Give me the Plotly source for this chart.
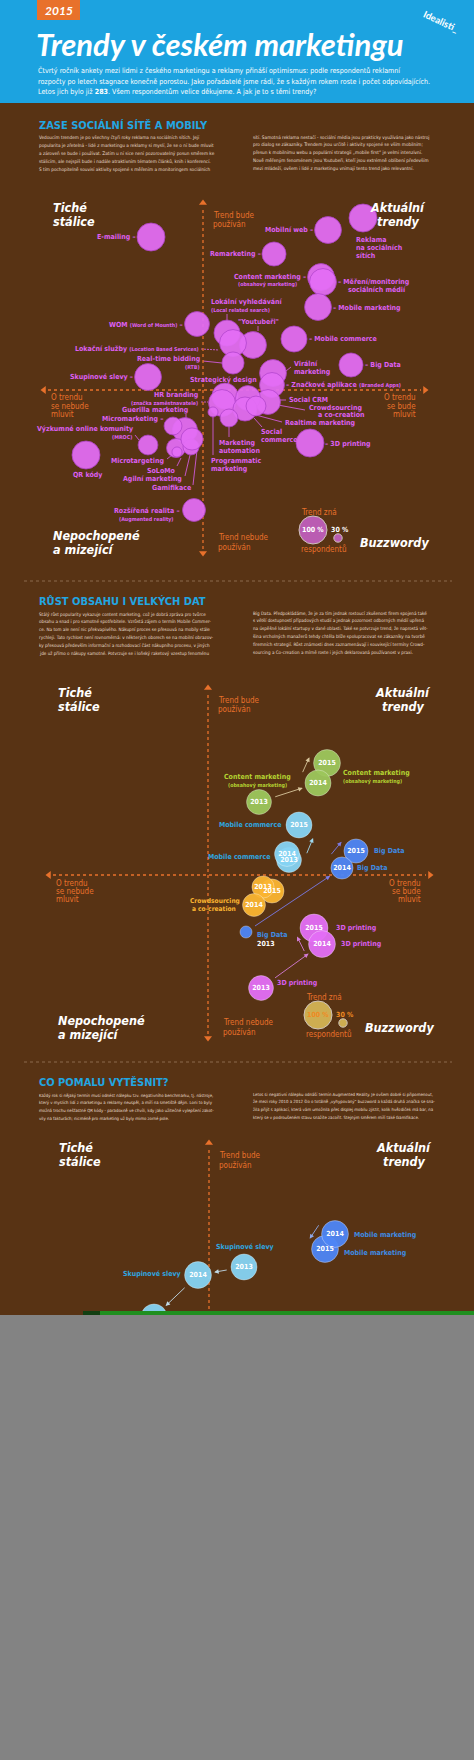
import math
import plotly.graph_objects as go

W, H = 474, 1760
NARROW = "Liberation Sans Narrow, DejaVu Sans Condensed, Arial Narrow, sans-serif"
TITLE_FONT = "Lato, Liberation Sans, sans-serif"

# ---------------- data ----------------
# 2015: talk = "bude se o trendu mluvit", use = "trend bude používán" (0 = střed os),
# known = kolik % respondentů trend zná
trends = ["E-mailing", "Reklama na sociálních sítích", "Mobilní web", "Remarketing",
          "Content marketing", "Měření/monitoring sociálních médií", "Mobile marketing",
          "Lokální vyhledávání", "WOM", "Youtubeři", "Mobile commerce", "Lokační služby",
          "Real-time bidding", "Skupinové slevy", "Virální marketing", "Big Data",
          "Značkové aplikace", "Strategický design", "HR branding", "Social CRM",
          "Crowdsourcing a co-creation", "Realtime marketing", "Social commerce",
          "Marketing automation", "Programmatic marketing", "3D printing",
          "Guerilla marketing", "Micromarketing", "Výzkumné online komunity",
          "Microtargeting", "SoLoMo", "Agilní marketing", "Gamifikace", "QR kódy",
          "Rozšířená realita"]
talk = [-52, 160, 125, 71, 118, 120, 115, 24, -6, 50, 91, 30, 30, -55, 70, 148, 69, 22, 19, 65,
        45, 42, 53, 26, 10, 107, -18, -30, -55, -27, -26, -12, -11, -117, -9]
use = [153, 172, 160, 136, 113, 108, 83, 57, 66, 45, 51, 47, 27, 13, 17, 25, 5, -6, -13, -12,
       -8, -19, -16, -28, -22, -53, -40, -36, -55, -58, -62, -57, -49, -65, -120]
known = [100, 100, 96, 86, 96, 96, 96, 93, 89, 96, 93, 96, 79, 96, 96, 86, 89, 93, 96, 89,
         89, 86, 71, 64, 36, 100, 89, 64, 71, 68, 36, 57, 79, 100, 82]

legend_known = [100, 30]

# vývoj 2013 - 2015
growth_names = ["Content marketing", "Mobile commerce", "Big Data", "Crowdsourcing a co-creation", "3D printing"]
growth_years = [2013, 2014, 2015]
growth_talk = [[51, 110, 119], [81, 79, 91], [38, 134, 148], [55, 46, 64], [53, 114, 106]]
growth_use = [[73, 92, 112], [15, 21, 50], [-57, 7, 24], [-12, -30, -16], [-113, -69, -53]]
growth_known = [[89, 93, 96], [89, 89, 93], [43, 79, 86], [79, 82, 86], [89, 96, 100]]

decline_names = ["Skupinové slevy", "Mobile marketing"]
decline_years = [[2013, 2014, 2015], [2014, 2015]]
decline_talk = [[35, -11, -55], [126, 116]]
decline_use = [[63, 55, 13], [96, 81]]
decline_known = [[93, 96, 93], [96, 96]]

# ---------------- styles ----------------
BLUE = "#1CA3E0"
BROWN = "#583314"
ORANGE = "#E8712B"
PINK = "#E46EF6"
PINK_TXT = "#DD5FF2"
PARA = "#EADFD0"
SIZEREF = 1 / 0.28  # 100 % respondentu = 28 px

growth_col = ["#9DC75C", "#86D4F4", "#4E86F6", "#FBB531", "#E46EF6"]
growth_txt = ["#B4D232", "#2EA6E0", "#3E8BE3", "#FBB531", "#DA5EF0"]
growth_arrow = ["#D8C69C", "#9ED9F0", "#7B7BE6", None, "#D27AD6"]
growth_side = [1, -1, 1, 0, 1]
decline_col = ["#86D4F4", "#4E86F6"]
decline_txt = ["#2EA6E0", "#3E8BE3"]
decline_arrow = ["#BFD9E6", "#8FA8E8"]
decline_side = [1, -1]

# (stred os x, stred os y, horni okraj, dolni okraj) v pixelech stranky
charts = [(203, 390, 180, 560), (208, 875, 665, 1045), (209, 1330, 1130, 1313)]
AX_X0, AX_X1, AX_Y0, AX_Y1 = -159, 222, -163, 187

fig = go.Figure()
ann = []
shapes = []


def txt(s, x, y, size=7.0, color=PINK_TXT, anchor="left", bold=True, italic=False, family=NARROW, angle=0):
    ann.append(dict(text=s, x=x / W, y=1 - y / H, xref="paper", yref="paper", showarrow=False,
                    xanchor=anchor, yanchor="middle", textangle=angle, borderpad=0,
                    font=dict(family=family, size=size, color=color,
                              weight="bold" if bold else "normal",
                              style="italic" if italic else "normal")))


def sub(s):
    return "<span style='font-size:5.3px'>" + s + "</span>"


def rect(x0, y0, x1, y1, color, layer="below"):
    shapes.append(dict(type="rect", xref="paper", yref="paper", x0=x0 / W, x1=x1 / W,
                       y0=1 - y1 / H, y1=1 - y0 / H, fillcolor=color, line=dict(width=0), layer=layer))


def seg(x0, y0, x1, y1, color=PINK_TXT, width=0.8, dash="solid"):
    shapes.append(dict(type="line", xref="paper", yref="paper", x0=x0 / W, x1=x1 / W,
                       y0=1 - y0 / H, y1=1 - y1 / H, line=dict(color=color, width=width, dash=dash),
                       layer="below"))


# ---------------- header ----------------
rect(0, 0, W, 103, BLUE)
rect(37, 0, 80, 20, ORANGE)
txt("2015", 58.5, 10, 12, "white", "center", True, True, TITLE_FONT)
txt("Trendy v českém marketingu", 35, 44, 31, "white", "left", True, True, TITLE_FONT)
txt("Idealisti_", 441, 22, 9.5, "white", "center", True, False, TITLE_FONT, angle=25)
sub_lines = ["Čtvrtý ročník ankety mezi lidmi z českého marketingu a reklamy přináší optimismus: podle respondentů reklamní",
             "rozpočty po letech stagnace konečně porostou. Jako pořadatelé jsme rádi, že s každým rokem roste i počet odpovídajících.",
             "Letos jich bylo již <b>283</b>. Všem respondentům velice děkujeme. A jak je to s těmi trendy?"]
for i, s in enumerate(sub_lines):
    txt(s, 37, 71 + i * 10, 7.1, "white", "left", False)


def section(title, y, left, right, size):
    txt(title, 38, y, 11, "#22A6E2", "left", True)
    for i, s in enumerate(left):
        txt(s, 38, y + 13 + i * 7.8, size, PARA, "left", False)
    for i, s in enumerate(right):
        txt(s, 252, y + 12 + i * 7.8, size, PARA, "left", False)


section("ZASE SOCIÁLNÍ SÍTĚ A MOBILY", 125,
        ["Vedoucím trendem je po všechny čtyři roky reklama na sociálních sítích. Její",
         "popularita je zřetelná - lidé z marketingu a reklamy si myslí, že se o ní bude mluvit",
         "a zároveň se bude i používat. Zatím u ní sice není pozorovatelný posun směrem ke",
         "stálicím, ale nejspíš bude i nadále atraktivním tématem článků, knih i konferencí.",
         "S tím pochopitelně souvisí aktivity spojené s měřením a monitoringem sociálních"],
        ["sítí. Samotná reklama nestačí - sociální média jsou prakticky využívána jako nástroj",
         "pro dialog se zákazníky. Trendem jsou určitě i aktivity spojené se vším mobilním;",
         "přesun k mobilnímu webu a populární strategii „mobile first“ je velmi intenzivní.",
         "Nově měřeným fenoménem jsou Youtubeři, kteří jsou extrémně oblíbení především",
         "mezi mládeží, ovšem i lidé z marketingu vnímají tento trend jako relevantní."], 4.7)

section("RŮST OBSAHU I VELKÝCH DAT", 601,
        ["Stálý růst popularity vykazuje content marketing, což je dobrá zpráva pro tvůrce",
         "obsahu a snad i pro samotné spotřebitele. Vzrůstá zájem o termín Mobile Commer-",
         "ce. Na tom ale není nic překvapivého. Nákupní proces se přesouvá na mobily stále",
         "rychleji. Tato rychlost není rovnoměrná: v některých oborech se na mobilní obrazov-",
         "ky přesouvá především informační a rozhodovací část nákupního procesu, v jiných",
         "jde už přímo o nákupy samotné. Potvrzuje se i loňský raketový vzestup fenoménu"],
        ["Big Data. Předpokládáme, že je za tím jednak rostoucí zkušenost firem spojená také",
         "s větší dostupností případových studií a jednak pozornost odborných médií upřená",
         "na úspěšné lokální startupy v dané oblasti. Také se potvrzuje trend, že naprostá vět-",
         "šina vrcholných manažerů tehdy chtěla blíže spolupracovat se zákazníky na tvorbě",
         "firemních strategií. Růst známosti dnes zaznamenávají i související termíny Crowd-",
         "sourcing a Co-creation a mírně roste i jejich deklarovaná používanost v praxi."], 4.6)

section("CO POMALU VYTĚSNIT?", 1082,
        ["Každý rok si nějaký termín musí odnést nálepku tzv. negativního benchmarku, tj. nástroje,",
         "který v myslích lidí z marketingu a reklamy neuspěl, a míří na smetiště dějin. Loni to byly",
         "možná trochu nešťastné QR kódy - paradoxně ve chvíli, kdy jako užitečné vylepšení zakot-",
         "vily na fakturách; nicméně pro marketing už byly mimo zorné pole."],
        ["Letos si negativní nálepku odnáší termín Augmented Reality. Je ovšem dobré si připomenout,",
         "že mezi roky 2010 a 2012 šlo o totálně „vyhypovaný“ buzzword a každá druhá značka se sna-",
         "žila přijít s aplikací, která vám umožnila přes displej mobilu zjistit, kolik hvězdiček má bar, na",
         "který se v podroušeném stavu snažíte zacořit. Stejným směrem míří také Gamifikace."], 4.3)

seg(24, 581, 452, 581, "#8B6A4C", 1, "dot")
seg(24, 1062, 452, 1062, "#8B6A4C", 1, "dot")

# ---------------- axes of the three charts ----------------
layout_axes = {}
for n, (cx, cy, top, bot) in enumerate(charts, start=1):
    sfx = "" if n == 1 else str(n)
    layout_axes["xaxis" + sfx] = dict(domain=[0, 1], range=[-cx, W - cx], visible=False,
                                      anchor="y" + sfx, fixedrange=True)
    layout_axes["yaxis" + sfx] = dict(domain=[1 - bot / H, 1 - top / H], range=[cy - bot, cy - top],
                                      visible=False, anchor="x" + sfx, fixedrange=True)
    xr, yr = "x" + sfx, "y" + sfx
    shapes.append(dict(type="line", xref=xr, yref=yr, x0=0, x1=0, y0=AX_Y0 + 4, y1=AX_Y1 - 4,
                       line=dict(color=ORANGE, width=1.3, dash="3px,3px"), layer="below"))
    shapes.append(dict(type="line", xref=xr, yref=yr, x0=AX_X0 + 4, x1=AX_X1 - 4, y0=0, y1=0,
                       line=dict(color=ORANGE, width=1.3, dash="3px,3px"), layer="below"))
    fig.add_trace(go.Scatter(x=[0, 0, AX_X0, AX_X1], y=[AX_Y1, AX_Y0, 0, 0], mode="markers",
                             marker=dict(symbol=["triangle-up", "triangle-down", "triangle-left", "triangle-right"],
                                         size=7, color=ORANGE),
                             xaxis=xr, yaxis=yr, hoverinfo="skip", showlegend=False))


def quadrant(ax, top, legend_txt, full=True):
    white = dict(color="white", bold=True, italic=True, size=12.5)
    txt("Tiché", ax - 151, top + 4, **white)
    txt("stálice", ax - 151, top + 18, **white)
    txt("Aktuální", ax + 195, top + 4, anchor="center", **white)
    txt("trendy", ax + 195, top + 18, anchor="center", **white)
    txt("Trend bude", ax + 9, top + 12, 8, ORANGE, bold=False)
    txt("používán", ax + 9, top + 22, 8, ORANGE, bold=False)
    if not full:
        return
    for i, s in enumerate(["O trendu", "se nebude", "mluvit"]):
        txt(s, ax - 153, top + 195 + i * 8.2, 8, ORANGE, bold=False)
    for i, s in enumerate(["O trendu", "se bude", "mluvit"]):
        txt(s, ax + 214, top + 195 + i * 8.2, 8, ORANGE, "right", bold=False)
    txt("Nepochopené", ax - 151, top + 332, **white)
    txt("a mizející", ax - 151, top + 346, **white)
    txt("Trend nebude", ax + 14, top + 334, 8, ORANGE, bold=False)
    txt("používán", ax + 14, top + 344, 8, ORANGE, bold=False)
    txt("Buzzwordy", ax + 191, top + 339, anchor="center", **white)
    txt("Trend zná", ax + 97, top + 309, 8, ORANGE, bold=False)
    txt("respondentů", ax + 97, top + 346, 8, ORANGE, bold=False)
    txt("100 %", ax + 110, top + 327, 7, legend_txt, "center")
    txt("30 %", ax + 137, top + 327, 7, legend_txt, "center")


quadrant(203, 203, "white")
quadrant(208, 688, "#F08A22")
quadrant(209, 1143, None, full=False)

# ---------------- chart 1: 2015 ----------------
fig.add_trace(go.Scatter(x=talk, y=use, mode="markers", text=trends, hoverinfo="text",
                         marker=dict(size=known, sizemode="diameter", sizeref=SIZEREF, color=PINK,
                                     opacity=0.93, line=dict(color="#B043CC", width=0.8)),
                         xaxis="x", yaxis="y", showlegend=False))
for ref, fill in (("", PINK), ("2", "#FFE16B")):
    fig.add_trace(go.Scatter(x=[110, 135], y=[-140, -148], mode="markers",
                             marker=dict(size=legend_known, sizemode="diameter", sizeref=SIZEREF, color=fill),
                             xaxis="x" + ref, yaxis="y" + ref, hoverinfo="skip", showlegend=False))

# labels chart 1
txt("E-mailing –", 137, 237, anchor="right")
for i, s in enumerate(["Reklama", "na sociálních", "sítích"]):
    txt(s, 355, 240 + i * 7.8)
txt("Mobilní web –", 314, 230, anchor="right")
txt("Remarketing –", 262, 254, anchor="right")
txt("Content marketing –", 307, 277, anchor="right")
txt("(obsahový marketing)", 298, 285, 5.3, anchor="right")
txt("– Měření/monitoring", 337, 282)
txt("sociálních médií", 347, 289.5)
txt("– Mobile marketing", 332, 308)
txt("Lokální vyhledávání", 210, 302)
txt("(Local related search)", 210, 310, 5.3)
seg(227, 314, 227, 320)
txt("WOM " + sub("(Word of Mounth)") + " –", 184, 325, anchor="right")
txt("\"Youtubeři\"", 258, 322, anchor="center")
seg(258, 326, 258, 331)
txt("– Mobile commerce", 308, 339)
txt("Lokační služby " + sub("(Location Based Services)"), 200, 349, anchor="right")
seg(201, 349, 219, 350, dash="2px,1px")
txt("Real-time bidding", 201, 359, anchor="right")
txt("(RTB)", 201, 367, 5.3, anchor="right")
seg(203, 361, 222, 363)
txt("Skupinové slevy –", 134, 377, anchor="right")
txt("Virální", 293, 364)
txt("marketing", 293, 372)
seg(286, 371, 291, 367)
txt("– Big Data", 364, 365)
txt("Strategický design", 223, 380, anchor="center")
txt("– Značkové aplikace " + sub("(Branded Apps)"), 285, 385)
txt("HR branding", 199, 395, anchor="right")
txt("(značka zaměstnavatele)", 199, 403, 5.3, anchor="right")
seg(201, 402, 208, 402, dash="2px,1px")
txt("Social CRM", 288, 400)
seg(280, 400, 286, 400)
txt("Crowdsourcing", 308, 408)
txt("a co-creation", 317, 415)
seg(278, 405, 305, 410)
txt("Realtime marketing", 284, 423)
seg(252, 414, 282, 422)
txt("Social", 260, 432)
txt("commerce", 260, 440)
seg(254, 418, 262, 427)
txt("Marketing", 218, 443)
txt("automation", 218, 451)
seg(229, 427, 229, 437)
txt("Programmatic", 210, 461)
txt("marketing", 210, 469)
seg(213, 417, 213, 455)
txt("– 3D printing", 324, 444)
txt("Guerilla marketing", 189, 410, anchor="right")
seg(186, 414, 186, 418)
txt("Micromarketing –", 164, 419, anchor="right")
txt("Výzkumné online komunity", 134, 429, anchor="right")
txt("(MROC)", 133, 437, 5.3, anchor="right")
seg(135, 435, 139, 440)
txt("Microtargeting", 165, 461, anchor="right")
seg(167, 459, 172, 455)
txt("SoLoMo", 176, 470.5, anchor="right")
seg(177, 466, 181, 458)
txt("Agilní marketing", 183, 479, anchor="right")
seg(185, 476, 190, 455)
txt("Gamifikace", 192, 488, anchor="right")
seg(193, 485, 197, 450)
txt("QR kódy", 87, 475, anchor="center")
txt("Rozšířená realita –", 181, 511, anchor="right")
txt("(Augmented reality)", 174, 519, 5.3, anchor="right")


# ---------------- charts 2 and 3: vývoj v čase ----------------
def arrows(xs, ys, ks, color, side, ref):
    for i in range(len(xs) - 1):
        ax_, ay_, bx, by = xs[i], ys[i], xs[i + 1], ys[i + 1]
        dx, dy = bx - ax_, by - ay_
        dist = math.hypot(dx, dy)
        if dist < 10:
            continue
        ux, uy = dx / dist, dy / dist
        ra, rb = ks[i] * 0.14, ks[i + 1] * 0.14
        if dist > ra + rb + 6:
            sx, sy = ax_ + ux * (ra + 3), ay_ + uy * (ra + 3)
            ex, ey = bx - ux * (rb + 3), by - uy * (rb + 3)
        else:
            nx, ny = -uy * side, ux * side
            off = max(ra, rb) + 5
            mx, my = (ax_ + bx) / 2 + nx * off, (ay_ + by) / 2 + ny * off
            sx, sy, ex, ey = mx - ux * 9, my - uy * 9, mx + ux * 9, my + uy * 9
        ann.append(dict(x=ex, y=ey, ax=sx, ay=sy, xref="x" + ref, yref="y" + ref,
                        axref="x" + ref, ayref="y" + ref, text="", showarrow=True,
                        arrowhead=2, arrowsize=1, arrowwidth=0.9, arrowcolor=color, standoff=0))


def bubbles(xs, ys, ks, years, color, ref):
    order = sorted(range(len(years)), key=lambda j: {2015: 0, 2013: 1, 2014: 2}[years[j]])
    fig.add_trace(go.Scatter(
        x=[xs[j] for j in order], y=[ys[j] for j in order],
        mode="markers+text",
        text=[str(years[j]) if ks[j] >= 60 else "" for j in order],
        textposition="middle center",
        textfont=dict(family=NARROW, size=7, color="white", weight="bold"),
        marker=dict(size=[ks[j] for j in order], sizemode="diameter", sizeref=SIZEREF, color=color,
                    opacity=0.95, line=dict(color="rgba(255,255,255,0.35)", width=1)),
        xaxis="x" + ref, yaxis="y" + ref, hoverinfo="skip", showlegend=False, cliponaxis=True))


for k in range(len(growth_names)):
    if growth_arrow[k]:
        arrows(growth_talk[k], growth_use[k], growth_known[k], growth_arrow[k], growth_side[k], "2")
    bubbles(growth_talk[k], growth_use[k], growth_known[k], growth_years, growth_col[k], "2")

for k in range(len(decline_names)):
    arrows(decline_talk[k], decline_use[k], decline_known[k], decline_arrow[k], decline_side[k], "3")
    bubbles(decline_talk[k], decline_use[k], decline_known[k], decline_years[k], decline_col[k], "3")

# labels chart 2
c = growth_txt
txt("Content marketing", 257, 777, 7, c[0], "center")
txt("(obsahový marketing)", 257, 785, 5.3, c[0], "center")
txt("Content marketing", 342, 773, 7, c[0])
txt("(obsahový marketing)", 342, 781, 5.3, c[0])
txt("Mobile commerce", 282, 825, 7, c[1], "right")
txt("Mobile commerce", 271, 857, 7, c[1], "right")
txt("Big Data", 373, 851, 7, c[2])
txt("Big Data", 356, 868, 7, c[2])
txt("Big Data", 256, 935, 7, c[2])
txt("2013", 256, 944, 7, "white")
txt("Crowdsourcing", 241, 901, 6.6, c[3], "right")
txt("a co-creation", 191, 908.5, 6.6, c[3])
txt("3D printing", 335, 928, 7, c[4])
txt("3D printing", 340, 944, 7, c[4])
txt("3D printing", 276, 983, 7, c[4])

# labels chart 3
txt("Skupinové slevy", 245, 1247, 7, decline_txt[0], "center")
txt("Skupinové slevy", 182, 1274, 7, decline_txt[0], "right")
txt("Mobile marketing", 353, 1235, 7, decline_txt[1])
txt("Mobile marketing", 343, 1253, 7, decline_txt[1])

# ---------------- bottom (cut off page) ----------------
rect(0, 1315, W, H, "#838383", "above")
rect(83, 1311, 100, 1315, "#123F12", "above")
rect(100, 1311, W, 1315, "#1F8F1F", "above")

fig.update_layout(width=W, height=H, margin=dict(l=0, r=0, t=0, b=0),
                  paper_bgcolor=BROWN, plot_bgcolor="rgba(0,0,0,0)",
                  shapes=shapes, annotations=ann, showlegend=False, **layout_axes)

fig.write_html("out.html", config={"displayModeBar": False},
               post_script="document.body.style.margin='0px';")
